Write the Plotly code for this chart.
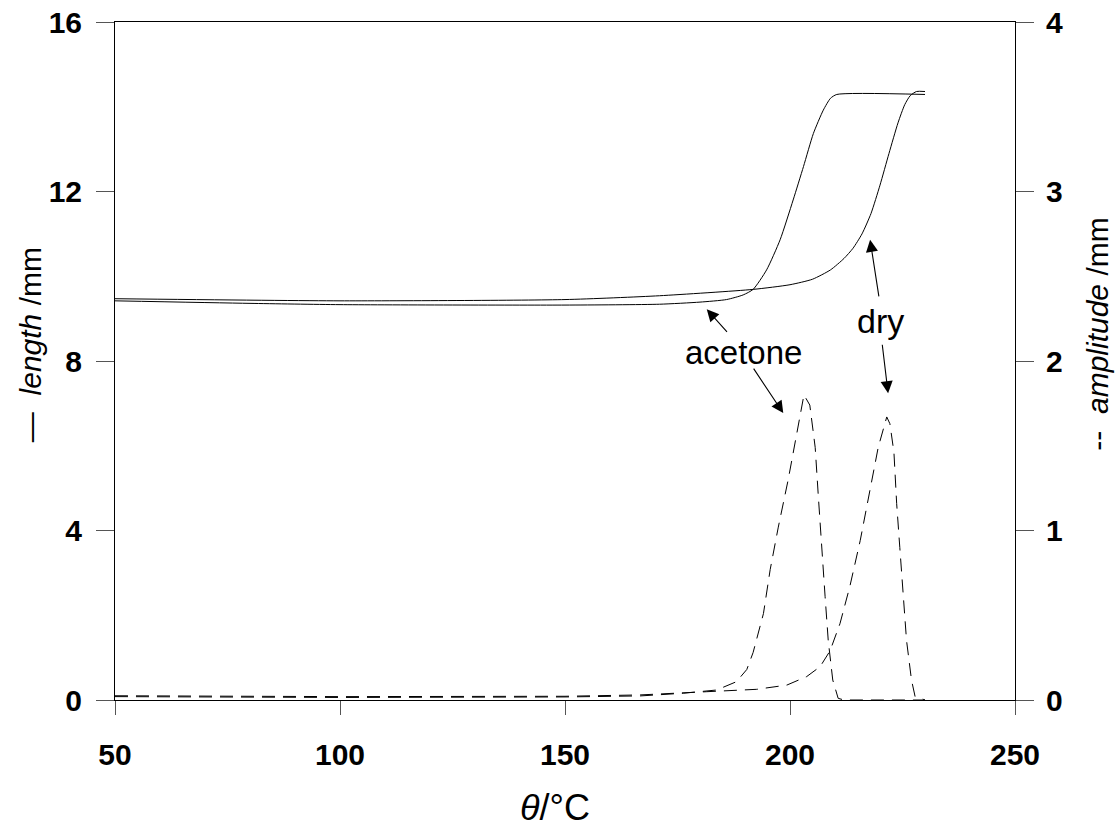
import plotly.graph_objects as go

# ---- data ----
len_acetone_t = [50, 80, 100, 150, 171, 180, 185.9, 189.6, 191.8, 194.8, 197.8, 200.7, 203.0, 205.2, 207.4, 209.0, 210.4, 230]
len_acetone_v = [9.42, 9.36, 9.33, 9.32, 9.34, 9.39, 9.45, 9.56, 9.69, 10.15, 10.86, 11.8, 12.59, 13.37, 13.92, 14.2, 14.29, 14.29]

len_dry_t = [50, 100, 150, 171, 191.8, 200, 205, 209, 212, 214, 216, 218, 220, 222, 224, 225.5, 226.7, 228.1, 230]
len_dry_v = [9.47, 9.42, 9.45, 9.54, 9.69, 9.80, 9.93, 10.15, 10.42, 10.66, 11.0, 11.48, 12.15, 12.9, 13.62, 14.05, 14.26, 14.36, 14.36]

amp_acetone_t = [50, 100, 150, 166.7, 176.3, 183.7, 188.1, 190.4, 191.8, 194.1, 195.6, 197.4, 199.6, 201.8, 203.1,
                 204.4, 205.6, 206.3, 207.0, 207.8, 208.5, 209.5, 210.7, 212, 230]
amp_acetone_v = [0.02, 0.015, 0.018, 0.024, 0.04, 0.059, 0.108, 0.18, 0.28, 0.51, 0.77, 1.02, 1.30, 1.61, 1.80,
                 1.74, 1.49, 1.20, 0.90, 0.61, 0.35, 0.118, 0.01, 0.0, 0.0]

amp_dry_t = [50, 100, 150, 166.7, 181.5, 192.6, 199.3, 203.7, 206.7, 208.9, 211.1, 213.3, 215.6, 217.8, 219.6,
             221.5, 222.2, 223.1, 223.7, 224.4, 225.2, 225.9, 227.0, 227.8, 229.6, 230]
amp_dry_v = [0.025, 0.02, 0.022, 0.03, 0.049, 0.063, 0.088, 0.138, 0.197, 0.29, 0.45, 0.67, 0.94, 1.24, 1.49,
             1.67, 1.63, 1.46, 1.16, 0.90, 0.61, 0.35, 0.118, 0.02, 0.004, 0.0]

x_ticks = [50, 100, 150, 200, 250]
len_ticks = [0, 4, 8, 12, 16]
amp_ticks = [0, 1, 2, 3, 4]

FONT = "Liberation Sans, Arial, Helvetica, sans-serif"

fig = go.Figure()
solid = dict(color="black", width=1)
dashed = dict(color="black", width=1, dash="13px,8px")

fig.add_trace(go.Scatter(x=len_acetone_t, y=len_acetone_v, mode="lines",
                         line=dict(**solid, shape="spline", smoothing=0.6), showlegend=False))
fig.add_trace(go.Scatter(x=len_dry_t, y=len_dry_v, mode="lines",
                         line=dict(**solid, shape="spline", smoothing=0.6), showlegend=False))
fig.add_trace(go.Scatter(x=amp_acetone_t, y=amp_acetone_v, mode="lines", yaxis="y2",
                         line=dashed, showlegend=False))
fig.add_trace(go.Scatter(x=amp_dry_t, y=amp_dry_v, mode="lines", yaxis="y2",
                         line=dashed, showlegend=False))

tickfont = dict(family=FONT, size=30, color="black", weight="bold")

fig.update_layout(
    width=1115, height=828,
    margin=dict(l=115, r=100, t=22, b=128, autoexpand=False),
    plot_bgcolor="white", paper_bgcolor="white",
    xaxis=dict(range=[50, 250], tickvals=x_ticks, ticks="outside", ticklen=14, tickcolor="#555",
               showline=True, linecolor="black", linewidth=1, mirror=True, automargin=False,
               showgrid=False, zeroline=False, tickfont=tickfont, ticklabelstandoff=14),
    yaxis=dict(range=[0, 16], tickvals=len_ticks, ticks="outside", ticklen=18, tickcolor="#555",
               showline=True, linecolor="black", linewidth=1, automargin=False,
               showgrid=False, zeroline=False, tickfont=tickfont, ticklabelstandoff=8),
    yaxis2=dict(range=[0, 4], tickvals=amp_ticks, ticks="outside", ticklen=18, tickcolor="#555",
                overlaying="y", side="right", automargin=False,
                showline=True, linecolor="black", linewidth=1,
                showgrid=False, zeroline=False, tickfont=tickfont, ticklabelstandoff=6),
)

annots = []
# axis titles
annots.append(dict(xref="paper", yref="paper", x=-0.094, y=0.524, xanchor="center", yanchor="middle",
                   text="—  <i>length</i> /mm", textangle=-90, showarrow=False,
                   font=dict(family=FONT, size=30, color="black")))
annots.append(dict(xref="paper", yref="paper", x=1.092, y=0.540, xanchor="center", yanchor="middle",
                   text="--  <i>amplitude</i> /mm", textangle=-90, showarrow=False,
                   font=dict(family=FONT, size=30, color="black")))
annots.append(dict(xref="paper", yref="paper", x=0.489, y=-0.158, xanchor="center", yanchor="middle",
                   text="<i>θ</i>/°C", showarrow=False,
                   font=dict(family=FONT, size=36, color="black")))
# labels
annots.append(dict(x=189.6, y=8.2, text="acetone", showarrow=False,
                   font=dict(family=FONT, size=33, color="black")))
annots.append(dict(x=220, y=8.95, text="dry", showarrow=False,
                   font=dict(family=FONT, size=34, color="black")))
# arrows (head point in data coords, tail offset in pixels)
arrow = dict(showarrow=True, arrowhead=2, arrowsize=2.2, arrowwidth=1.1, arrowcolor="black",
             axref="pixel", ayref="pixel", text="")
annots.append(dict(x=181.5, y=9.22, ax=21.6, ay=24, **arrow))
annots.append(dict(x=198.5, y=6.77, ax=-30.6, ay=-46, **arrow))
annots.append(dict(x=217.8, y=10.86, ax=9, ay=58, **arrow))
annots.append(dict(x=221.8, y=7.24, ax=-6, ay=-50, **arrow))

fig.update_layout(annotations=annots)

fig.write_html("out.html")
